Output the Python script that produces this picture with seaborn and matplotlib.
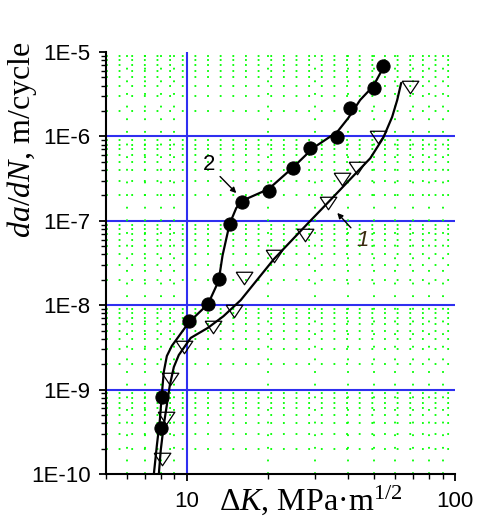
import numpy as np
import matplotlib
matplotlib.use('Agg')
import matplotlib.pyplot as plt
import matplotlib.ticker as mticker
import seaborn as sns

# measured points, curve 2 (filled circles)
dk_2 = [8.0, 8.07, 10.2, 12.0, 13.15, 14.45, 16.0, 20.2, 25.0, 28.9, 36.4, 40.7, 50.0, 54.0]
dadn_2 = [3.5e-10, 8.2e-10, 6.5e-9, 1.03e-8, 2.04e-8, 9.2e-8, 1.67e-7, 2.25e-7,
          4.2e-7, 7.3e-7, 9.8e-7, 2.17e-6, 3.74e-6, 6.8e-6]

# measured points, curve 1 (open triangles)
dk_1 = [8.07, 8.35, 8.65, 9.74, 12.5, 14.96, 16.3, 21.2, 27.7, 33.7, 38.0, 43.2, 51.7, 68.0]
dadn_1 = [1.5e-10, 4.6e-10, 1.34e-9, 3.2e-9, 5.5e-9, 8.5e-9, 2.1e-8, 3.8e-8,
          6.8e-8, 1.63e-7, 3.1e-7, 4.2e-7, 9.8e-7, 3.85e-6]

# fitted curves
fit_dk_2 = [7.54, 7.74, 7.94, 8.07, 8.21, 8.43, 8.80, 10.2, 12.0, 13.15, 13.6, 14.45,
            15.3, 16.3, 20.2, 25.0, 29.6, 36.4, 40.0, 44.3, 49.6, 54.0]
fit_dadn_2 = [1.0e-10, 2.2e-10, 4.4e-10, 8.6e-10, 1.62e-9, 2.5e-9, 3.3e-9, 6.3e-9,
              1.03e-8, 1.94e-8, 3.9e-8, 9.2e-8, 1.42e-7, 1.76e-7, 2.38e-7, 4.34e-7,
              7.3e-7, 1.13e-6, 1.65e-6, 2.7e-6, 3.95e-6, 6.5e-6]
fit_dk_1 = [7.87, 8.0, 8.21, 8.43, 8.65, 8.95, 9.34, 10.35, 12.0, 13.7, 15.9, 21.1,
            27.7, 34.3, 42.5, 48.3, 54.0, 58.3, 60.9, 63.0]
fit_dadn_1 = [1.0e-10, 1.92e-10, 3.8e-10, 6.6e-10, 1.13e-9, 1.85e-9, 2.57e-9, 4.1e-9,
              5.4e-9, 7.4e-9, 1.15e-8, 3.5e-8, 8.7e-8, 1.76e-7, 3.6e-7, 5.5e-7,
              9.6e-7, 1.7e-6, 2.7e-6, 4.3e-6]

y_decades = [1e-10, 1e-9, 1e-8, 1e-7, 1e-6, 1e-5]
x_limits = [5, 100]

sns.set_theme(style='white')
plt.rcParams['font.family'] = ['Liberation Sans', 'DejaVu Sans']
plt.rcParams['mathtext.fontset'] = 'custom'
plt.rcParams['mathtext.rm'] = 'Liberation Serif'
plt.rcParams['mathtext.it'] = 'Liberation Serif:italic'

fig = plt.figure(figsize=(4.8, 5.25), dpi=100)
ax = fig.add_axes([106 / 480, 1 - 474 / 525, 349 / 480, 422 / 525])
ax.set_xscale('log')
ax.set_yscale('log')

# curves
sns.lineplot(x=fit_dk_2, y=fit_dadn_2, sort=False, estimator=None, color='black', lw=1.6, ax=ax)
sns.lineplot(x=fit_dk_1, y=fit_dadn_1, sort=False, estimator=None, color='black', lw=1.6, ax=ax)

# points
sns.lineplot(x=dk_2, y=dadn_2, sort=False, estimator=None, linestyle='none', marker='o',
             markersize=9.5, color='black', markeredgecolor='black', ax=ax)
# flattened down-pointing triangle, closed
tri = [(-1, 0.75), (1, 0.75), (0, -0.75), (-1, 0.75)]
sns.lineplot(x=dk_1, y=dadn_1, sort=False, estimator=None, linestyle='none', marker=tri,
             markersize=12, markerfacecolor='none', markeredgecolor='black',
             markeredgewidth=0.9, color='black', ax=ax)

ax.set_xlim(*x_limits)
ax.set_ylim(y_decades[0], y_decades[-1])

# grids
ax.set_axisbelow(True)
ax.grid(which='minor', color='#00ff00', linestyle=(0, (1, 6)), lw=1.3)
ax.grid(which='major', visible=False)
for v in y_decades[1:-1]:
    ax.axhline(v, color='#2f2ff0', lw=1.5, zorder=0.5)
ax.axvline(10, color='#2f2ff0', lw=1.5, zorder=0.5)

# ticks
ax.yaxis.set_major_locator(mticker.FixedLocator(y_decades))
ax.yaxis.set_major_formatter(mticker.FuncFormatter(lambda v, p: f'1E{int(round(np.log10(v)))}'))
ax.yaxis.set_minor_locator(mticker.LogLocator(subs=np.arange(2, 10)))
ax.yaxis.set_minor_formatter(mticker.NullFormatter())
ax.xaxis.set_major_locator(mticker.FixedLocator([10, 100]))
ax.xaxis.set_major_formatter(mticker.FuncFormatter(lambda v, p: f'{v:g}'))
ax.xaxis.set_minor_locator(mticker.LogLocator(subs=np.arange(2, 10)))
ax.xaxis.set_minor_formatter(mticker.NullFormatter())

ax.tick_params(axis='both', which='major', direction='out', length=5, width=1.3,
               labelsize=16, color='black', labelcolor='black')
ax.tick_params(axis='y', which='major', pad=6)
ax.tick_params(axis='x', which='major', pad=7)
ax.tick_params(axis='both', which='minor', direction='out', length=3.5, width=1.0,
               color='black')
ax.tick_params(left=True, bottom=True, which='both')

for s in ['top', 'right']:
    ax.spines[s].set_visible(False)
for s in ['left', 'bottom']:
    ax.spines[s].set_color('black')
    ax.spines[s].set_linewidth(1.5)

# axis labels
fig.text(22 / 480, 1 - 140 / 525, '$da/dN$, m/cycle', rotation=90, ha='center', va='center',
         fontsize=23, family='Liberation Serif', color='black')
fig.text(311 / 480, 1 - 510 / 525, 'Δ$K$, MPa·m$^{1/2}$', ha='center', va='baseline',
         fontsize=23, family='Liberation Serif', color='black')

# curve labels
ax.annotate('2', xy=(15.3, 2.13e-7), xytext=(12.07, 4.6e-7), ha='center', va='center',
            fontsize=16, color='black',
            arrowprops=dict(arrowstyle='-|>', color='black', lw=1, mutation_scale=8,
                            shrinkA=2, shrinkB=0))
ax.annotate('1', xy=(36.4, 1.24e-7), xytext=(45.1, 5.9e-8), ha='center', va='center',
            fontsize=16, style='italic', color='#3a2a10',
            arrowprops=dict(arrowstyle='-|>', color='black', lw=1, mutation_scale=8,
                            shrinkA=2, shrinkB=0))

fig.savefig('out.png', dpi=100, facecolor='white')
